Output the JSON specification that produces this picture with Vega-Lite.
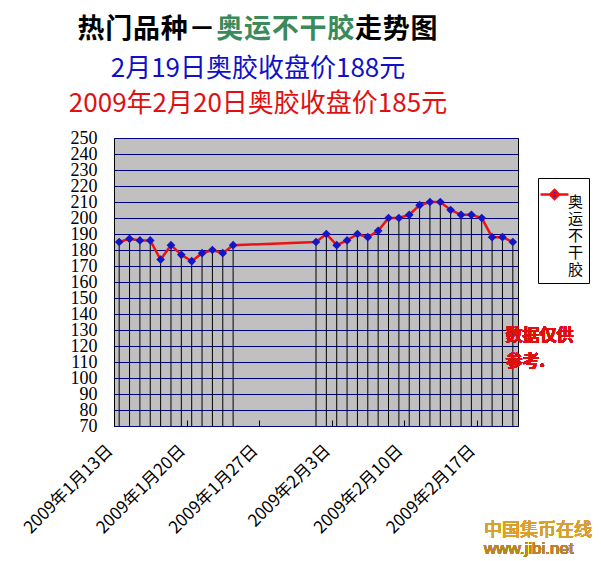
{
  "$schema": "https://vega.github.io/schema/vega-lite/v6.json",
  "background": "white",
  "padding": {"left": 20, "top": 4, "right": 0, "bottom": 0},
  "spacing": 0,
  "resolve": {"scale": {"color": "independent"}, "legend": {"color": "independent"}},
  "config": {
    "view": {"stroke": null},
    "font": "Noto Sans CJK SC"
  },
  "vconcat": [
    {
      "width": 404,
      "height": 51,
      "view": {"stroke": null, "fill": null},
      "data": {"values": [
        {"i": 0, "ch": "热", "c": "#000000"},
        {"i": 1, "ch": "门", "c": "#000000"},
        {"i": 2, "ch": "品", "c": "#000000"},
        {"i": 3, "ch": "种", "c": "#000000"},
        {"i": 4, "ch": "－", "c": "#000000"},
        {"i": 5, "ch": "奥", "c": "#3A8A5C"},
        {"i": 6, "ch": "运", "c": "#3A8A5C"},
        {"i": 7, "ch": "不", "c": "#3A8A5C"},
        {"i": 8, "ch": "干", "c": "#3A8A5C"},
        {"i": 9, "ch": "胶", "c": "#3A8A5C"},
        {"i": 10, "ch": "走", "c": "#000000"},
        {"i": 11, "ch": "势", "c": "#000000"},
        {"i": 12, "ch": "图", "c": "#000000"}
      ]},
      "mark": {"type": "text", "fontSize": 27, "fontWeight": "bold", "font": "Noto Sans CJK SC", "baseline": "middle", "align": "center"},
      "encoding": {
        "x": {"field": "i", "type": "quantitative", "scale": {"domain": [0, 12], "range": [-23, 310]}, "axis": null},
        "text": {"field": "ch"},
        "color": {"field": "c", "type": "nominal", "scale": null, "legend": null}
      }
    },
    {
      "width": 404,
      "height": 288,
      "title": {
        "text": "2月19日奥胶收盘价188元",
        "subtitle": "2009年2月20日奥胶收盘价185元",
        "color": "#1010C8",
        "subtitleColor": "#E01010",
        "font": "Noto Sans CJK SC",
        "subtitleFont": "Noto Sans CJK SC",
        "fontSize": 26,
        "subtitleFontSize": 26,
        "fontWeight": "normal",
        "anchor": "middle",
        "dx": -58,
        "offset": 12,
        "subtitlePadding": 9
      },
      "view": {"stroke": "#000000", "strokeWidth": 1, "fill": "#C0C0C0"},
      "data": {"values": [
        {"date": "2009-01-13T00:00:00", "price": 185},
        {"date": "2009-01-14T00:00:00", "price": 187},
        {"date": "2009-01-15T00:00:00", "price": 186},
        {"date": "2009-01-16T00:00:00", "price": 186},
        {"date": "2009-01-17T00:00:00", "price": 174},
        {"date": "2009-01-18T00:00:00", "price": 183},
        {"date": "2009-01-19T00:00:00", "price": 177},
        {"date": "2009-01-20T00:00:00", "price": 173},
        {"date": "2009-01-21T00:00:00", "price": 178},
        {"date": "2009-01-22T00:00:00", "price": 180},
        {"date": "2009-01-23T00:00:00", "price": 178},
        {"date": "2009-01-24T00:00:00", "price": 183},
        {"date": "2009-02-01T00:00:00", "price": 185},
        {"date": "2009-02-02T00:00:00", "price": 190},
        {"date": "2009-02-03T00:00:00", "price": 183},
        {"date": "2009-02-04T00:00:00", "price": 186},
        {"date": "2009-02-05T00:00:00", "price": 190},
        {"date": "2009-02-06T00:00:00", "price": 188},
        {"date": "2009-02-07T00:00:00", "price": 192},
        {"date": "2009-02-08T00:00:00", "price": 200},
        {"date": "2009-02-09T00:00:00", "price": 200},
        {"date": "2009-02-10T00:00:00", "price": 202},
        {"date": "2009-02-11T00:00:00", "price": 208},
        {"date": "2009-02-12T00:00:00", "price": 210},
        {"date": "2009-02-13T00:00:00", "price": 210},
        {"date": "2009-02-14T00:00:00", "price": 205},
        {"date": "2009-02-15T00:00:00", "price": 202},
        {"date": "2009-02-16T00:00:00", "price": 202},
        {"date": "2009-02-17T00:00:00", "price": 200},
        {"date": "2009-02-18T00:00:00", "price": 188},
        {"date": "2009-02-19T00:00:00", "price": 188},
        {"date": "2009-02-20T00:00:00", "price": 185}
      ]},
      "encoding": {
        "x": {
          "field": "date", "type": "temporal",
          "scale": {"domain": [{"year": 2009, "month": 1, "date": 12, "hours": 12}, {"year": 2009, "month": 2, "date": 20, "hours": 12}]},
          "axis": {
            "title": null,
            "grid": false,
            "domain": false,
            "values": [
              {"year": 2009, "month": 1, "date": 12, "hours": 12},
              {"year": 2009, "month": 1, "date": 19, "hours": 12},
              {"year": 2009, "month": 1, "date": 26, "hours": 12},
              {"year": 2009, "month": 2, "date": 2, "hours": 12},
              {"year": 2009, "month": 2, "date": 9, "hours": 12},
              {"year": 2009, "month": 2, "date": 16, "hours": 12}
            ],
            "labelExpr": "timeFormat(time(datum.value) + 43200000, '%Y年%-m月%-d日')",
            "labelAngle": -45,
            "labelFont": "Noto Sans CJK SC",
            "labelFontSize": 17,
            "labelColor": "#000000",
            "labelOffset": -10,
            "labelPadding": 22,
            "labelOverlap": false,
            "tickSize": -6,
            "tickColor": "#000000",
            "tickWidth": 1
          }
        },
        "y": {
          "field": "price", "type": "quantitative",
          "scale": {"domain": [70, 250], "nice": false, "zero": false},
          "axis": {
            "title": null,
            "values": [70, 80, 90, 100, 110, 120, 130, 140, 150, 160, 170, 180, 190, 200, 210, 220, 230, 240, 250],
            "grid": true,
            "gridColor": "#000080",
            "gridOpacity": 1,
            "gridWidth": 1,
            "ticks": false,
            "domain": false,
            "labelFont": "Liberation Serif",
            "labelFontSize": 18,
            "labelColor": "#000000",
            "labelPadding": 17,
            "labelOverlap": false
          }
        }
      },
      "layer": [
        {
          "mark": {"type": "rule", "color": "#000000", "strokeWidth": 1},
          "encoding": {"y2": {"datum": 70}}
        },
        {
          "mark": {"type": "line", "strokeWidth": 2.5},
          "encoding": {
            "color": {
              "datum": "奥运不干胶",
              "scale": {"range": ["#EE1111"]},
              "legend": {
                "orient": "none",
                "legendX": 424,
                "legendY": 40,
                "title": null,
                "strokeColor": "#000000",
                "fillColor": "#FFFFFF",
                "padding": 5,
                "symbolType": "M-1.4,0H1.4M0,-0.45L0.45,0L0,0.45L-0.45,0Z",
                "symbolSize": 400,
                "symbolStrokeWidth": 2.5,
                "symbolFillColor": "#1515C8",
                "labelExpr": "['奥','运','不','干','胶']",
                "labelFont": "Noto Sans CJK SC",
                "labelFontSize": 15,
                "labelBaseline": "top",
                "labelOffset": 2,
                "labelColor": "#000000",
                "encode": {
                  "symbols": {"update": {
                    "size": {"value": 400},
                    "fill": {"value": "#1515C8"},
                    "stroke": {"value": "#EE1111"},
                    "strokeWidth": {"value": 2.5}
                  }}
                }
              }
            }
          }
        },
        {
          "mark": {"type": "point", "shape": "diamond", "filled": true, "size": 75, "opacity": 1, "color": "#1515C8"}
        },
        {
          "mark": {"type": "text", "clip": false, "align": "left", "baseline": "top", "color": "#E01010", "fontSize": 17, "fontWeight": "bold", "lineHeight": 26, "font": "Noto Sans CJK SC"},
          "encoding": {
            "x": {"datum": {"year": 2009, "month": 2, "date": 19, "hours": 7}, "type": "temporal"},
            "y": {"datum": 131},
            "text": {"value": ["数据仅供", "参考."]}
          }
        },
        {
          "mark": {"type": "text", "clip": false, "align": "left", "baseline": "middle", "color": "#D9A030", "fontSize": 18, "font": "Noto Sans CJK SC"},
          "encoding": {
            "x": {"datum": {"year": 2009, "month": 2, "date": 17, "hours": 5}, "type": "temporal"},
            "y": {"datum": 4.5},
            "text": {"value": "中国集币在线"}
          }
        },
        {
          "mark": {"type": "text", "clip": false, "align": "left", "baseline": "middle", "color": "#B8862A", "fontSize": 17, "font": "Liberation Sans"},
          "encoding": {
            "x": {"datum": {"year": 2009, "month": 2, "date": 17, "hours": 5}, "type": "temporal"},
            "y": {"datum": -7},
            "text": {"value": "www.jibi.net"}
          }
        }
      ]
    }
  ]
}
